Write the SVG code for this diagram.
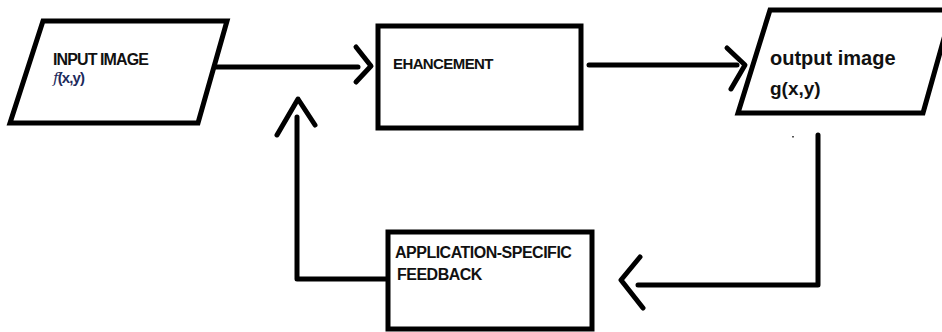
<svg xmlns="http://www.w3.org/2000/svg" width="942" height="332" viewBox="0 0 942 332">
<style>
.shape{fill:#fff;stroke:#000;stroke-width:5;stroke-linejoin:miter}
.ln{fill:none;stroke:#000;stroke-width:5;stroke-linecap:round;stroke-linejoin:round}
.t{font-family:"Liberation Sans",Arial,sans-serif;font-weight:bold;fill:#111}
</style>
<rect width="942" height="332" fill="#fff"/>
<g id="connectors">
<path class="ln" d="M215 67 H358"/>
<path class="ln" d="M356 47 L371 66 L356 82"/>
<path class="ln" d="M589 65 H737"/>
<path class="ln" d="M727 48 L745 65 L731 89"/>
<path class="ln" d="M818 135 V285 H638"/>
<path class="ln" d="M640 257 L621 280 L643 308"/>
<path class="ln" d="M390 279 H297 V117"/>
<path class="ln" d="M277 135 L298 99 L315 125"/>
</g>
<g id="input">
<polygon class="shape" points="43,21 227,21 198,123 10,123"/>
<text class="t" x="53" y="65" font-size="16" letter-spacing="-0.9">INPUT IMAGE</text>
<text class="t" x="53" y="83" font-size="15" letter-spacing="-0.9" style="fill:#1c2a5c"><tspan font-family="'DejaVu Serif',serif" font-style="italic" font-weight="normal" font-size="15">f</tspan>(x,y)</text>
</g>
<g id="enhancement">
<rect class="shape" x="378" y="26" width="203" height="102"/>
<text class="t" x="393" y="69" font-size="15" letter-spacing="-0.6">EHANCEMENT</text>
</g>
<g id="output">
<polygon class="shape" points="770,10 952,10 923,113 738,113"/>
<text class="t" x="770" y="65" font-size="20">output image</text>
<text class="t" x="770" y="95" font-size="19">g(x,y)</text>
</g>
<rect x="792" y="136" width="2" height="1.5" fill="#555"/>
<g id="feedback">
<rect class="shape" x="388" y="232" width="204" height="97"/>
<text class="t" x="395" y="258" font-size="16" letter-spacing="-0.5">APPLICATION-SPECIFIC</text>
<text class="t" x="397" y="280" font-size="16" letter-spacing="-0.5">FEEDBACK</text>
</g>
</svg>
